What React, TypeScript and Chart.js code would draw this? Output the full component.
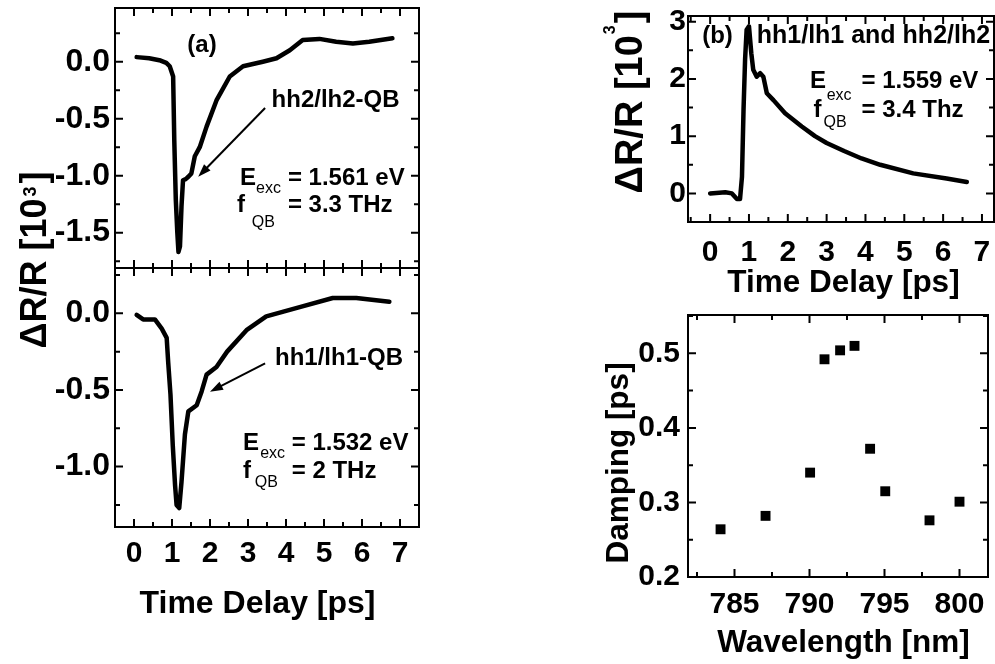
import React, { useEffect, useRef } from 'react';
import { Chart, registerables } from 'chart.js';

Chart.register(...registerables);

const FAMILY = "'Liberation Sans', Arial, Helvetica, sans-serif";
const BF = (s: number) => `bold ${s}px ${FAMILY}`;
const RF = (s: number) => `${s}px ${FAMILY}`;

// ---------- data ----------
// (a) upper panel: hh2/lh2-QB, E_exc = 1.561 eV
const HH2_TIME = [0.07, 0.4, 0.7, 0.85, 0.94, 1.03, 1.06, 1.1, 1.14, 1.17, 1.21, 1.25, 1.29, 1.36, 1.43, 1.51, 1.6, 1.73, 1.91, 2.17, 2.52, 2.87, 3.39, 3.75, 4.1, 4.44, 4.88, 5.32, 5.76, 6.19, 6.8];
const HH2_DR = [0.04, 0.03, 0.01, -0.01, -0.04, -0.13, -0.69, -1.21, -1.5, -1.67, -1.62, -1.27, -1.04, -1.03, -1.01, -0.98, -0.83, -0.75, -0.57, -0.34, -0.13, -0.04, 0.0, 0.03, 0.1, 0.19, 0.2, 0.175, 0.16, 0.175, 0.205];

// (a) lower panel: hh1/lh1-QB, E_exc = 1.532 eV
const HH1_TIME = [0.07, 0.24, 0.55, 0.73, 0.86, 0.9, 0.96, 1.02, 1.08, 1.12, 1.19, 1.25, 1.34, 1.43, 1.65, 1.78, 1.91, 2.17, 2.45, 2.96, 3.48, 4.36, 5.23, 5.85, 6.72];
const HH1_DR = [-0.01, -0.04, -0.04, -0.1, -0.16, -0.32, -0.53, -0.86, -1.12, -1.25, -1.27, -1.1, -0.79, -0.64, -0.6, -0.51, -0.4, -0.35, -0.25, -0.11, -0.02, 0.04, 0.1, 0.1, 0.076];

// (b) hh1/lh1 and hh2/lh2, E_exc = 1.559 eV
const B_TIME = [0.0, 0.39, 0.56, 0.69, 0.77, 0.82, 0.86, 0.9, 0.94, 1.0, 1.06, 1.11, 1.2, 1.29, 1.37, 1.46, 1.63, 1.93, 2.36, 2.7, 3.0, 3.45, 3.9, 4.38, 5.23, 6.09, 6.61];
const B_DR = [0.0, 0.02, 0.0, -0.1, -0.1, 0.29, 1.46, 2.34, 2.86, 2.92, 2.45, 2.16, 2.04, 2.1, 2.04, 1.75, 1.63, 1.4, 1.17, 1.0, 0.88, 0.74, 0.61, 0.5, 0.35, 0.26, 0.2];

// damping vs wavelength
const WAVELENGTH = [784.07, 787.07, 790.04, 791.0, 792.04, 793.0, 794.04, 795.05, 798.0, 800.0];
const DAMPING = [0.264, 0.282, 0.34, 0.492, 0.504, 0.51, 0.372, 0.315, 0.276, 0.301];

// tick labels
const TIME_TICKS = [0, 1, 2, 3, 4, 5, 6, 7];
const A_TOP_Y_TICKS = [0, -0.5, -1.0, -1.5];
const A_BOT_Y_TICKS = [0, -0.5, -1.0];
const B_Y_TICKS = [0, 1, 2, 3];
const WL_TICKS = [785, 790, 795, 800];
const DAMP_TICKS = [0.2, 0.3, 0.4, 0.5];

// ---------- helpers ----------
type TextItem = { text: string; x: number; y: number; font: string; align?: CanvasTextAlign; baseline?: CanvasTextBaseline };
type ArrowItem = { x1: number; y1: number; x2: number; y2: number };
type TitlePart = { text: string; font: string; rise?: number; gap?: number };
type TitleItem = { parts: TitlePart[]; cx: number; cy: number; vertical?: boolean };
type Decor = { xMinor: number; xMajor: number; yMinor: number; yMajor: number; texts: TextItem[]; arrows: ArrowItem[]; titles: TitleItem[] };

function makeDecorPlugin(d: Decor) {
  return {
    id: 'decor',
    afterDraw(chart: any) {
      const { ctx, chartArea: a } = chart;
      const xs = chart.scales.x;
      const ys = chart.scales.y;
      ctx.save();
      ctx.strokeStyle = '#000';
      ctx.fillStyle = '#000';
      ctx.lineWidth = 2;
      ctx.strokeRect(a.left, a.top, a.right - a.left, a.bottom - a.top);
      const MAJ = 8;
      const MIN = 5;
      const list = (scale: any, minor: number, major: number) => {
        const out: { p: number; len: number }[] = [];
        const k0 = Math.ceil(scale.min / minor - 1e-6);
        const k1 = Math.floor(scale.max / minor + 1e-6);
        for (let k = k0; k <= k1; k++) {
          const v = k * minor;
          const r = v / major;
          out.push({ p: scale.getPixelForValue(v), len: Math.abs(r - Math.round(r)) < 1e-6 ? MAJ : MIN });
        }
        return out;
      };
      ctx.beginPath();
      for (const t of list(xs, d.xMinor, d.xMajor)) {
        ctx.moveTo(t.p, a.bottom);
        ctx.lineTo(t.p, a.bottom - t.len);
        ctx.moveTo(t.p, a.top);
        ctx.lineTo(t.p, a.top + t.len);
      }
      for (const t of list(ys, d.yMinor, d.yMajor)) {
        ctx.moveTo(a.left, t.p);
        ctx.lineTo(a.left + t.len, t.p);
        ctx.moveTo(a.right, t.p);
        ctx.lineTo(a.right - t.len, t.p);
      }
      ctx.stroke();

      // annotation texts (data coordinates)
      for (const t of d.texts) {
        ctx.font = t.font;
        ctx.textAlign = t.align || 'left';
        ctx.textBaseline = t.baseline || 'alphabetic';
        ctx.fillText(t.text, xs.getPixelForValue(t.x), ys.getPixelForValue(t.y));
      }

      // arrows (data coordinates)
      for (const ar of d.arrows) {
        const x1 = xs.getPixelForValue(ar.x1);
        const y1 = ys.getPixelForValue(ar.y1);
        const x2 = xs.getPixelForValue(ar.x2);
        const y2 = ys.getPixelForValue(ar.y2);
        const ang = Math.atan2(y2 - y1, x2 - x1);
        const L = 13;
        const W = 4.5;
        ctx.lineWidth = 2;
        ctx.beginPath();
        ctx.moveTo(x1, y1);
        ctx.lineTo(x2 - Math.cos(ang) * (L - 2), y2 - Math.sin(ang) * (L - 2));
        ctx.stroke();
        const bx = x2 - Math.cos(ang) * L;
        const by = y2 - Math.sin(ang) * L;
        ctx.beginPath();
        ctx.moveTo(x2, y2);
        ctx.lineTo(bx + Math.sin(ang) * W, by - Math.cos(ang) * W);
        ctx.lineTo(bx - Math.sin(ang) * W, by + Math.cos(ang) * W);
        ctx.closePath();
        ctx.fill();
      }

      // axis titles (page layout)
      for (const ti of d.titles) {
        ctx.save();
        ctx.translate(ti.cx, ti.cy);
        if (ti.vertical) ctx.rotate(-Math.PI / 2);
        ctx.textAlign = 'left';
        ctx.textBaseline = 'middle';
        let total = 0;
        const widths = ti.parts.map((p) => {
          ctx.font = p.font;
          const w = ctx.measureText(p.text).width;
          total += w + (p.gap || 0);
          return w;
        });
        let x = -total / 2;
        ti.parts.forEach((p, i) => {
          x += p.gap || 0;
          ctx.font = p.font;
          ctx.fillText(p.text, x, -(p.rise || 0));
          x += widths[i];
        });
        ctx.restore();
      }
      ctx.restore();
    },
  };
}

type AxisOpts = { min: number; max: number; ticks: number[]; show: boolean; size: number; fontSize: number; pad: number; fmt: (v: number) => string; horizontal: boolean };

function axis(o: AxisOpts) {
  return {
    type: 'linear',
    min: o.min,
    max: o.max,
    grid: { display: false, drawTicks: false },
    border: { display: false },
    ticks: {
      display: o.show,
      autoSkip: false,
      maxRotation: 0,
      minRotation: 0,
      padding: o.pad,
      color: '#000',
      font: { family: FAMILY, size: o.fontSize, weight: 'bold' },
      callback: (v: any) => o.fmt(Number(v)),
    },
    afterBuildTicks: (s: any) => {
      s.ticks = o.ticks.map((v) => ({ value: v }));
    },
    afterFit: (s: any) => {
      if (o.horizontal) s.height = o.size;
      else s.width = o.size;
      s.paddingLeft = 0;
      s.paddingRight = 0;
      s.paddingTop = 0;
      s.paddingBottom = 0;
    },
  };
}

const f1 = (v: number) => v.toFixed(1);
const f0 = (v: number) => String(Math.round(v));

function lineSet(xs: number[], ys: number[]) {
  return {
    data: xs.map((x, i) => ({ x, y: ys[i] })),
    showLine: true,
    borderColor: '#000',
    backgroundColor: '#000',
    borderWidth: 4.5,
    pointRadius: 0,
    tension: 0,
    borderCapStyle: 'round',
    borderJoinStyle: 'round',
  };
}

function makeConfig(p: { padding: any; x: AxisOpts; y: AxisOpts; datasets: any[]; decor: Decor }) {
  return {
    type: 'scatter',
    data: { datasets: p.datasets },
    options: {
      animation: false,
      responsive: false,
      devicePixelRatio: 1,
      events: [],
      layout: { padding: p.padding },
      plugins: { legend: { display: false }, tooltip: { enabled: false }, title: { display: false } },
      scales: { x: axis(p.x), y: axis(p.y) },
    },
    plugins: [makeDecorPlugin(p.decor)],
  } as any;
}

export default function App() {
  const r1 = useRef<HTMLCanvasElement>(null);
  const r2 = useRef<HTMLCanvasElement>(null);
  const r3 = useRef<HTMLCanvasElement>(null);
  const r4 = useRef<HTMLCanvasElement>(null);

  useEffect(() => {
    const cfgA = makeConfig({
      padding: { left: 45, right: 576, top: 8, bottom: 396 },
      x: { min: -0.5, max: 7.5, ticks: TIME_TICKS, show: false, size: 0, fontSize: 30, pad: 9, fmt: f0, horizontal: true },
      y: { min: -1.81, max: 0.471, ticks: A_TOP_Y_TICKS, show: true, size: 70, fontSize: 32, pad: 5, fmt: f1, horizontal: false },
      datasets: [lineSet(HH2_TIME, HH2_DR)],
      decor: {
        xMinor: 0.5, xMajor: 1, yMinor: 0.25, yMajor: 0.5,
        texts: [
          { text: '(a)', x: 1.79, y: 0.146, font: BF(24), align: 'center', baseline: 'middle' },
          { text: 'hh2/lh2-QB', x: 3.62, y: -0.397, font: BF(24) },
          { text: 'E', x: 2.79, y: -1.082, font: BF(24) },
          { text: 'exc', x: 3.21, y: -1.152, font: RF(16) },
          { text: '= 1.561 eV', x: 4.05, y: -1.082, font: BF(24) },
          { text: 'f', x: 2.71, y: -1.32, font: BF(24) },
          { text: 'QB', x: 3.1, y: -1.45, font: RF(16) },
          { text: '= 3.3 THz', x: 4.05, y: -1.32, font: BF(24) },
        ],
        arrows: [{ x1: 3.45, y1: -0.406, x2: 1.69, y2: -1.009 }],
        titles: [
          {
            parts: [
              { text: '\u0394R/R [10', font: BF(36) },
              { text: '3', font: BF(18), rise: 5, gap: 2 },
              { text: ']', font: BF(36), gap: 3 },
            ],
            cx: 36, cy: 260, vertical: true,
          },
        ],
      },
    });

    const cfgB = makeConfig({
      padding: { left: 45, right: 576, top: 268, bottom: 41 },
      x: { min: -0.5, max: 7.5, ticks: TIME_TICKS, show: true, size: 96, fontSize: 30, pad: 9, fmt: f0, horizontal: true },
      y: { min: -1.394, max: 0.2955, ticks: A_BOT_Y_TICKS, show: true, size: 70, fontSize: 32, pad: 5, fmt: f1, horizontal: false },
      datasets: [lineSet(HH1_TIME, HH1_DR)],
      decor: {
        xMinor: 0.5, xMajor: 1, yMinor: 0.25, yMajor: 0.5,
        texts: [
          { text: 'hh1/lh1-QB', x: 3.71, y: -0.337, font: BF(24) },
          { text: 'E', x: 2.87, y: -0.892, font: BF(24) },
          { text: 'exc', x: 3.32, y: -0.945, font: RF(16) },
          { text: '= 1.532 eV', x: 4.15, y: -0.892, font: BF(24) },
          { text: 'f', x: 2.87, y: -1.076, font: BF(24) },
          { text: 'QB', x: 3.18, y: -1.131, font: RF(16) },
          { text: '= 2 THz', x: 4.15, y: -1.076, font: BF(24) },
        ],
        arrows: [{ x1: 3.45, y1: -0.326, x2: 2.0, y2: -0.512 }],
        titles: [{ parts: [{ text: 'Time Delay [ps]', font: BF(32) }], cx: 257.5, cy: 604 }],
      },
    });

    const cfgC = makeConfig({
      padding: { left: 638, right: 1, top: 16, bottom: 362 },
      x: { min: -0.57, max: 7.31, ticks: TIME_TICKS, show: true, size: 80, fontSize: 30, pad: 13, fmt: f0, horizontal: true },
      y: { min: -0.5, max: 3.1, ticks: B_Y_TICKS, show: true, size: 50, fontSize: 30, pad: 2, fmt: f0, horizontal: false },
      datasets: [lineSet(B_TIME, B_DR)],
      decor: {
        xMinor: 0.5, xMajor: 1, yMinor: 0.5, yMajor: 1,
        texts: [
          { text: '(b)', x: 0.19, y: 2.74, font: BF(24), align: 'center', baseline: 'middle' },
          { text: 'hh1/lh1 and hh2/lh2', x: 1.2, y: 2.62, font: BF(25) },
          { text: 'E', x: 2.57, y: 1.836, font: BF(24) },
          { text: 'exc', x: 3.0, y: 1.64, font: RF(16) },
          { text: '= 1.559 eV', x: 3.9, y: 1.836, font: BF(24) },
          { text: 'f', x: 2.66, y: 1.34, font: BF(24) },
          { text: 'QB', x: 2.92, y: 1.154, font: RF(16) },
          { text: '= 3.4 Thz', x: 3.9, y: 1.34, font: BF(24) },
        ],
        arrows: [],
        titles: [
          {
            parts: [
              { text: '\u0394R/R [10', font: BF(38) },
              { text: '3', font: BF(16), rise: 21, gap: 1 },
              { text: ']', font: BF(38), gap: 2 },
            ],
            cx: 632, cy: 102, vertical: true,
          },
          { parts: [{ text: 'Time Delay [ps]', font: BF(31.5) }], cx: 843.5, cy: 283 },
        ],
      },
    });

    const cfgD = makeConfig({
      padding: { left: 600, right: 1, top: 315, bottom: 2 },
      x: { min: 781.9, max: 801.9, ticks: WL_TICKS, show: true, size: 85, fontSize: 30, pad: 10, fmt: f0, horizontal: true },
      y: { min: 0.2, max: 0.5514, ticks: DAMP_TICKS, show: true, size: 88, fontSize: 30, pad: 8, fmt: f1, horizontal: false },
      datasets: [
        {
          data: WAVELENGTH.map((x, i) => ({ x, y: DAMPING[i] })),
          pointStyle: 'rect',
          pointRadius: 7,
          borderWidth: 0,
          backgroundColor: '#000',
          borderColor: '#000',
        },
      ],
      decor: {
        xMinor: 2.5, xMajor: 5, yMinor: 0.05, yMajor: 0.1,
        texts: [],
        arrows: [],
        titles: [
          { parts: [{ text: 'Damping [ps]', font: BF(31.5) }], cx: 619, cy: 463, vertical: true },
          { parts: [{ text: 'Wavelength [nm]', font: BF(31.5) }], cx: 843.5, cy: 643 },
        ],
      },
    });

    const charts = [
      new Chart(r1.current!, cfgA),
      new Chart(r2.current!, cfgB),
      new Chart(r3.current!, cfgC),
      new Chart(r4.current!, cfgD),
    ];
    return () => charts.forEach((c) => c.destroy());
  }, []);

  const cs: React.CSSProperties = { position: 'absolute', left: 0, top: 0, width: 995, height: 664 };
  return (
    <div style={{ position: 'fixed', left: 0, top: 0, width: 995, height: 664, background: '#fff', overflow: 'hidden' }}>
      <canvas ref={r1} width={995} height={664} style={cs} />
      <canvas ref={r2} width={995} height={664} style={cs} />
      <canvas ref={r3} width={995} height={664} style={cs} />
      <canvas ref={r4} width={995} height={664} style={cs} />
    </div>
  );
}
